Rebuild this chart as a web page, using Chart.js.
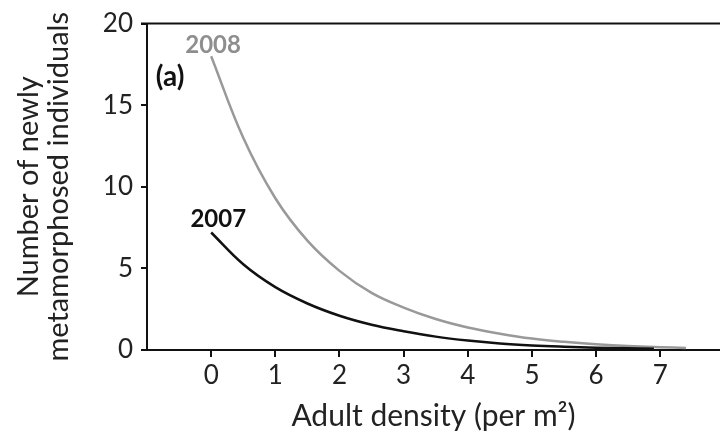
<!DOCTYPE html>
<html>
<head>
<meta charset="utf-8">
<script src="https://cdn.jsdelivr.net/npm/chart.js@4"></script>
<style>
  html, body { margin: 0; padding: 0; background: #fff; }
  #wrap { width: 720px; height: 439px; position: relative; }
</style>
</head>
<body>
<div id="wrap"><canvas id="c" width="720" height="439"></canvas></div>
<script>
// Data
const density2007 = [0, 0.5, 1, 1.5, 2, 2.5, 3, 3.5, 4, 4.5, 5, 5.5, 6, 6.5, 6.9];
const values2007  = [7.2, 5.25, 3.85, 2.85, 2.1, 1.55, 1.15, 0.82, 0.58, 0.40, 0.28, 0.20, 0.14, 0.10, 0.08];
const density2008 = [0, 0.5, 1, 1.5, 2, 2.5, 3, 3.5, 4, 4.5, 5, 5.5, 6, 6.5, 7, 7.4];
const values2008  = [18, 13, 9.3, 6.7, 4.85, 3.5, 2.6, 1.9, 1.38, 1.0, 0.70, 0.50, 0.35, 0.24, 0.17, 0.13];
const xTickValues = [0, 1, 2, 3, 4, 5, 6, 7];
const yTickValues = [0, 5, 10, 15, 20];
const seriesNames = ['2007', '2008'];

const FONT = 'Lato, Carlito, "Open Sans", sans-serif';

const pts = (xs, ys) => xs.map((x, i) => ({ x: x, y: ys[i] }));

const annotations = {
  id: 'annotations',
  afterDraw(chart) {
    const { ctx, chartArea, scales } = chart;
    ctx.save();
    // top frame line
    ctx.strokeStyle = '#111';
    ctx.lineWidth = 2;
    ctx.beginPath();
    ctx.moveTo(chartArea.left - 6, chartArea.top);
    ctx.lineTo(chartArea.right, chartArea.top);
    ctx.stroke();
    // text labels
    ctx.textAlign = 'center';
    ctx.textBaseline = 'middle';
    ctx.font = 'bold 24px ' + FONT;
    ctx.fillStyle = '#8e8e8e';
    ctx.fillText(seriesNames[1], scales.x.getPixelForValue(0.03), scales.y.getPixelForValue(18.65));
    ctx.fillStyle = '#111';
    ctx.fillText(seriesNames[0], scales.x.getPixelForValue(0.11), scales.y.getPixelForValue(8.0));
    ctx.font = 'bold 28px ' + FONT;
    ctx.fillText('(a)', scales.x.getPixelForValue(-0.64), scales.y.getPixelForValue(16.75));
    ctx.restore();
  }
};

new Chart(document.getElementById('c'), {
  type: 'scatter',
  data: {
    datasets: [
      {
        label: seriesNames[0],
        data: pts(density2007, values2007),
        showLine: true,
        borderColor: '#111111',
        borderWidth: 2.5,
        pointRadius: 0,
        tension: 0.4
      },
      {
        label: seriesNames[1],
        data: pts(density2008, values2008),
        showLine: true,
        borderColor: '#999999',
        borderWidth: 2.5,
        pointRadius: 0,
        tension: 0.4
      }
    ]
  },
  options: {
    responsive: false,
    animation: false,
    layout: { padding: { top: 23, left: 0, right: 0, bottom: 0 } },
    plugins: { legend: { display: false }, tooltip: { enabled: false } },
    scales: {
      x: {
        type: 'linear',
        min: -1,
        max: 7.93,
        afterBuildTicks(scale) { scale.ticks = xTickValues.map(v => ({ value: v })); },
        afterFit(scale) { scale.height = 89; },
        border: { color: '#111', width: 2 },
        grid: { drawOnChartArea: false, tickLength: 7, color: '#111', lineWidth: 2 },
        ticks: { font: { family: FONT, size: 26 }, color: '#222', padding: 3, maxRotation: 0 },
        title: { display: true, text: 'Adult density (per m²)', font: { family: FONT, size: 30 }, color: '#222', padding: { top: 0, bottom: 5 } }
      },
      y: {
        min: 0,
        max: 20,
        afterBuildTicks(scale) { scale.ticks = yTickValues.map(v => ({ value: v })); },
        afterFit(scale) { scale.width = 147; },
        border: { color: '#111', width: 2 },
        grid: { drawOnChartArea: false, tickLength: 6, color: '#111', lineWidth: 2 },
        ticks: { font: { family: FONT, size: 26 }, color: '#222', padding: 8 },
        title: { display: true, text: ['Number of newly', 'metamorphosed individuals'], font: { family: FONT, size: 29, lineHeight: 1.05 }, color: '#222', padding: { top: 13, bottom: 0 } }
      }
    }
  },
  plugins: [annotations]
});
</script>
</body>
</html>
